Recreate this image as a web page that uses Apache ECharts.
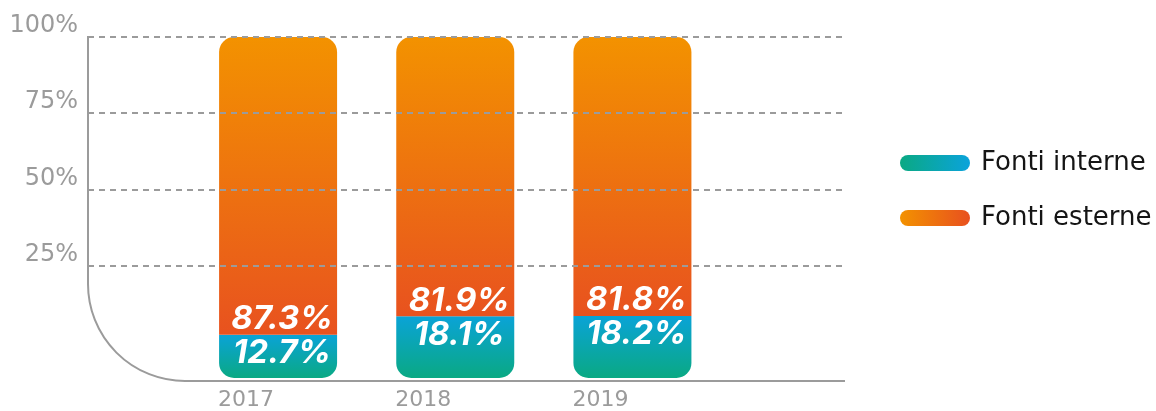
<!DOCTYPE html>
<html>
<head>
    <meta charset="utf-8">
    <script src="https://cdn.jsdelivr.net/npm/echarts@6/dist/echarts.min.js"></script>
    <style>
        html, body { margin: 0; padding: 0; background: #fff; }
        #main { width: 1156px; height: 411px; }
    </style>
</head>

<body>
    <div id="main"></div>

    <script type="text/javascript">
        var myChart = echarts.init(document.getElementById('main'));

        // data
        var years = ['2017', '2018', '2019']
        var interne = [12.7, 18.1, 18.2]
        var esterne = [87.3, 81.9, 81.8]
        var gridTicks = [25, 50, 75, 100]

        var grey = '#9b9b9b'
        var font = '"DejaVu Sans", sans-serif'
        var boldFont = 'Inter, "Noto Sans", sans-serif'

        function vGrad(top, bottom) {
            return new echarts.graphic.LinearGradient(0, 0, 0, 1, [
                { offset: 0, color: top },
                { offset: 1, color: bottom }
            ]);
        }
        function hGrad(left, right) {
            return new echarts.graphic.LinearGradient(0, 0, 1, 0, [
                { offset: 0, color: left },
                { offset: 1, color: right }
            ]);
        }

        var pill = 'path://M8,0 L62,0 A8,8 0 0 1 62,16 L8,16 A8,8 0 0 1 8,0 Z'

        var labelStyle = {
            show: true,
            color: '#fff',
            fontSize: 33,
            fontWeight: 'bold',
            fontStyle: 'italic',
            fontFamily: boldFont,
            offset: [4, 0],
            formatter: function (p) { return p.value.toFixed(1) + '%'; }
        }

        myChart.setOption({
            backgroundColor: '#fff',
            animation: false,
            legend: {
                orient: 'vertical',
                left: 895,
                top: 145,
                itemWidth: 70,
                itemHeight: 17,
                itemGap: 29,
                textStyle: { fontSize: 26, color: '#151515', fontFamily: font, padding: [0, 0, 0, 6] },
                data: [
                    { name: 'Fonti interne', icon: pill, itemStyle: { color: hGrad('#0aa983', '#0ba3db') } },
                    { name: 'Fonti esterne', icon: pill, itemStyle: { color: hGrad('#f39200', '#e8501f') } }
                ]
            },
            grid: [
                // bars
                { left: 189.5, right: 435, top: 37, bottom: 31 },
                // frame, labels and dashed lines
                { left: 88, right: 311, top: 37, bottom: 31 }
            ],
            xAxis: [{
                type: 'category',
                gridIndex: 0,
                data: years,
                axisLine: { show: false },
                axisTick: { show: false },
                axisLabel: {
                    color: grey,
                    fontSize: 22,
                    fontFamily: font,
                    margin: 11,
                    padding: [0, 64, 0, 0]
                }
            }, {
                type: 'value',
                gridIndex: 1,
                min: 0,
                max: 1,
                show: false
            }],
            yAxis: [{
                type: 'value',
                gridIndex: 0,
                min: 0,
                max: 100,
                show: false
            }, {
                type: 'value',
                gridIndex: 1,
                min: -12.5,
                max: 100,
                interval: 12.5,
                axisLine: { show: false },
                axisTick: { show: false },
                splitLine: { show: false },
                axisLabel: {
                    color: grey,
                    fontSize: 24,
                    fontFamily: font,
                    margin: 10,
                    verticalAlign: 'bottom',
                    padding: [0, 0, -1, 0],
                    formatter: function (v) {
                        return gridTicks.indexOf(v) >= 0 ? v + '%' : '';
                    }
                }
            }],
            series: [{
                name: 'grid',
                type: 'line',
                xAxisIndex: 1,
                yAxisIndex: 1,
                data: [],
                z: 1,
                silent: true,
                markLine: {
                    symbol: 'none',
                    silent: true,
                    label: { show: false },
                    lineStyle: { color: grey, width: 2, type: [6, 5] },
                    data: gridTicks.map(function (v) { return { yAxis: v }; })
                }
            }, {
                name: 'Fonti interne',
                type: 'bar',
                stack: 'tot',
                barWidth: 118,
                z: 3,
                data: interne,
                itemStyle: {
                    color: vGrad('#0aa3d7', '#0aa983'),
                    borderRadius: [0, 0, 15, 15]
                },
                label: Object.assign({ position: 'insideTop', distance: 2 }, labelStyle)
            }, {
                name: 'Fonti esterne',
                type: 'bar',
                stack: 'tot',
                barWidth: 118,
                z: 3,
                data: esterne,
                itemStyle: {
                    color: vGrad('#f39200', '#e8521f'),
                    borderRadius: [15, 15, 0, 0]
                },
                label: Object.assign({ position: 'insideBottom', distance: -1 }, labelStyle)
            }]
        });

        // axis frame with the rounded bottom-left corner
        var tl = myChart.convertToPixel({ xAxisIndex: 1, yAxisIndex: 1 }, [0, 100]);
        var br = myChart.convertToPixel({ xAxisIndex: 1, yAxisIndex: 1 }, [1, -12.5]);
        var r = 97;
        var x0 = tl[0], y0 = tl[1], x1 = br[0], y1 = br[1] + 1;
        var frameStyle = { stroke: grey, lineWidth: 2, fill: null };
        myChart.setOption({
            graphic: [{
                type: 'polyline',
                z: 0,
                silent: true,
                shape: { points: [[x0 + 4, y0], [x0, y0], [x0, y1 - r]] },
                style: frameStyle
            }, {
                type: 'arc',
                z: 0,
                silent: true,
                shape: { cx: x0 + r, cy: y1 - r, r: r, startAngle: Math.PI / 2, endAngle: Math.PI, clockwise: true },
                style: frameStyle
            }, {
                type: 'line',
                z: 0,
                silent: true,
                shape: { x1: x0 + r, y1: y1, x2: x1, y2: y1 },
                style: frameStyle
            }]
        });
    </script>
</body>

</html>
